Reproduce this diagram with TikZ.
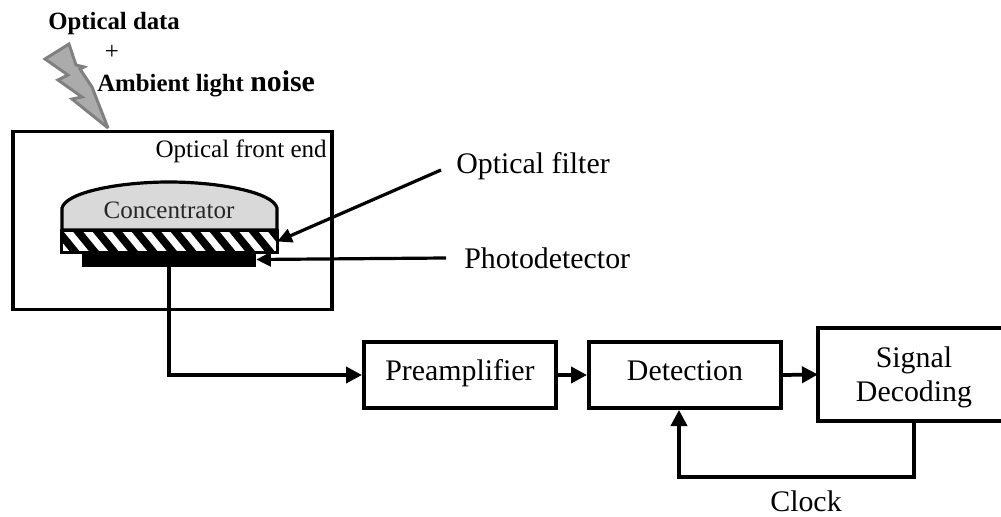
\documentclass[tikz,border=0pt]{standalone}
\usepackage{fontspec}
\setmainfont{Liberation Serif}
\usetikzlibrary{arrows.meta,calc}
\tikzset{
  big/.style={font=\fontsize{22.4}{25.5}\selectfont,inner sep=0pt},
  mid/.style={font=\fontsize{18.8}{22}\selectfont,inner sep=0pt},
  boldtxt/.style={font=\fontsize{18.6}{22}\selectfont\bfseries,inner sep=0pt},
  blockbox/.style={draw=black,line width=3pt,inner sep=0pt,font=\fontsize{22.4}{25.5}\selectfont,minimum width=144pt,minimum height=49.5pt,text height=11pt,text depth=3.5pt},
  conn/.style={draw=black,line width=2.8pt,-{Triangle[length=12pt,width=12pt]}},
  openbox/.style={draw=black,line width=3.4pt,line join=miter},
  point/.style={draw=black,line width=2.4pt,-{Triangle[length=11pt,width=10.5pt]}}
}
\begin{document}
\begin{tikzpicture}[x=0.75pt,y=-0.75pt]
\useasboundingbox (0,0) rectangle (1001,517);
% lightning
\draw[fill=black!33,draw=black!50,line width=2.2pt,line join=miter,miter limit=3]
  (69,44) -- (45,59) -- (68,75) -- (58,80) -- (82,97) -- (72,99) -- (108,128) -- (92,87) -- (80,69) -- (84,67) -- (76,65) -- cycle;
\node[boldtxt,anchor=base west] (t1) at (48,30) {Optical data};
\node[mid,anchor=base] (t2) at (112,60) {+};
\node[boldtxt,anchor=base west] (t3) at (97,92) {Ambient light};
\node[big,font=\fontsize{22.4}{25.5}\selectfont\bfseries,anchor=base west] (t4) at (250,92) {noise};
% front end
\node[draw=black,line width=2.5pt,minimum width=239.25pt,minimum height=133.5pt,inner sep=0pt] (front) at (172.5,220.5) {};
\node[mid,anchor=base east] (frontlabel) at (327,158) {Optical front end};
% concentrator
\draw[fill=black!15,draw=black,line width=2.4pt]
  (62,230) -- (62,208) .. controls (66,192) and (120,182) .. (169,182)
  .. controls (218,182) and (273,192) .. (277,208) -- (277,230) -- cycle;
\node[mid,anchor=base,text=black!85] (conc) at (169,219) {Concentrator};
% filter
\node[minimum width=161.25pt,minimum height=15.75pt,inner sep=0pt] (filter) at (169.5,241.5) {};
\begin{scope}
  \clip (filter.south west) rectangle (filter.north east);
  \foreach \i in {-1,...,11} {
    \fill[black] ({62+\i*19.5-9},231) -- ({62+\i*19.5+1},231) -- ({62+\i*19.5+19},253) -- ({62+\i*19.5+9},253) -- cycle;
  }
\end{scope}
\draw[line width=2.3pt] (filter.south west) rectangle (filter.north east);
% photodetector
\node[fill=black,minimum width=130.5pt,minimum height=11.25pt,inner sep=0pt] (pd) at (169,259.5) {};
% blocks
\node[blockbox] (pre) at (460,375) {Preamplifier};
\node[blockbox] (det) at (685,375) {Detection};
\node[outer sep=0pt,minimum width=137.25pt,minimum height=69.75pt,inner sep=0pt] (sig) at (909.5,374.5) {};
\path[openbox] (sig.north east) -- (sig.north west) -- (sig.south west) -- (sig.south east);
\node[big,align=center] (sigtext) at (914,377.5) {Signal\\Decoding};
% labels
\node[big,anchor=base west] (flabel) at (456,174) {Optical filter};
\node[big,anchor=base west] (pdlabel) at (464,268) {Photodetector};
\node[big,anchor=base] (clock) at (806,511) {Clock};
% connectors
\coordinate (fstart) at (441,170);
\coordinate (pstart) at (446,258);
\coordinate (fb) at (679,477);
\draw[point] (fstart) -- (filter.east);
\draw[point] (pstart) -- (pd.east);
\draw[conn] (pd.south) |- (pre.west);
\draw[conn] (pre.east) -- (det.west);
\draw[conn] (det.east) -- (sig.west);
\draw[conn] (sigtext |- sig.south) |- (fb) -- (fb |- det.south);
\end{tikzpicture}
\end{document}
